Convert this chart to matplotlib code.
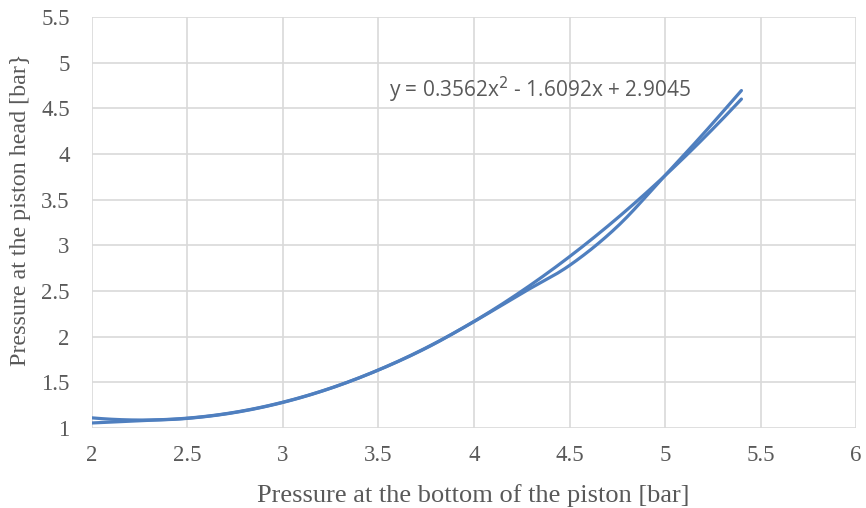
import numpy as np
import matplotlib.pyplot as plt

x_data = [2.0, 2.25, 2.5, 2.75, 3.0, 3.25, 3.5, 3.75, 4.0, 4.25, 4.5, 4.75, 5.0, 5.2, 5.4]
y_data = [1.055, 1.08, 1.105, 1.17, 1.28, 1.435, 1.635, 1.875, 2.165, 2.475, 2.78, 3.205, 3.765, 4.22, 4.695]

# polynomial trendline coefficients (a, b, c)
trend_coef = [0.3562, -1.6092, 2.9045]
trend_label = "y = 0.3562x$^2$ - 1.6092x + 2.9045"

x_ticks = [2, 2.5, 3, 3.5, 4, 4.5, 5, 5.5, 6]
y_ticks = [1, 1.5, 2, 2.5, 3, 3.5, 4, 4.5, 5, 5.5]

blue = "#4f7fbf"
grey_txt = "#595959"

plt.rcParams["font.family"] = "Liberation Serif"


def smooth(xp, yp, n=20):
    # catmull-rom through the points, roughly what excel does for smoothed lines
    P = np.column_stack([np.asarray(xp, float), np.asarray(yp, float)])
    P = np.vstack([2 * P[0] - P[1], P, 2 * P[-1] - P[-2]])
    out = []
    t = np.linspace(0, 1, n, endpoint=False)[:, None]
    for i in range(1, len(P) - 2):
        p0, p1, p2, p3 = P[i - 1], P[i], P[i + 1], P[i + 2]
        seg = 0.5 * ((2 * p1) + (-p0 + p2) * t + (2 * p0 - 5 * p1 + 4 * p2 - p3) * t ** 2
                     + (-p0 + 3 * p1 - 3 * p2 + p3) * t ** 3)
        out.append(seg)
    out.append(P[-2][None, :])
    out = np.vstack(out)
    return out[:, 0], out[:, 1]


fig = plt.figure(figsize=(8.66, 5.08), dpi=100)
ax = fig.add_axes([0.1062, 0.1575, 0.8823, 0.809])

xs, ys = smooth(x_data, y_data)
ax.plot(xs, ys, color=blue, lw=2.3, solid_capstyle="round")

xt = np.linspace(2.0, 5.4, 200)
ax.plot(xt, np.polyval(trend_coef, xt), color=blue, lw=2.3, solid_capstyle="round")

ax.set_xlim(2, 6)
ax.set_ylim(1, 5.5)
ax.set_xticks(x_ticks)
ax.set_yticks(y_ticks)
ax.set_xticklabels([f"{t:g}" for t in x_ticks])
ax.set_yticklabels([f"{t:g}" for t in y_ticks])
ax.grid(True, color="#d9d9d9", lw=1.2)
ax.set_axisbelow(True)
for s in ax.spines.values():
    s.set_visible(False)
ax.tick_params(length=0, labelsize=16.5, labelcolor=grey_txt)
ax.tick_params(axis="y", pad=16)
ax.tick_params(axis="x", pad=12)

ax.set_xlabel("Pressure at the bottom of the piston [bar]", fontsize=19, color=grey_txt)
ax.set_ylabel("Pressure at the piston head [bar}", fontsize=17.3, color=grey_txt)
ax.xaxis.set_label_coords(0.499, -0.18)
ax.xaxis.label.set_va("baseline")
ax.yaxis.set_label_coords(-0.093, 0.53)
ax.yaxis.label.set_va("center")

ax.text(3.555, 4.70, trend_label, fontsize=15, color=grey_txt,
        family="Open Sans", va="center", ha="left")

fig.savefig("out.png", dpi=100)
